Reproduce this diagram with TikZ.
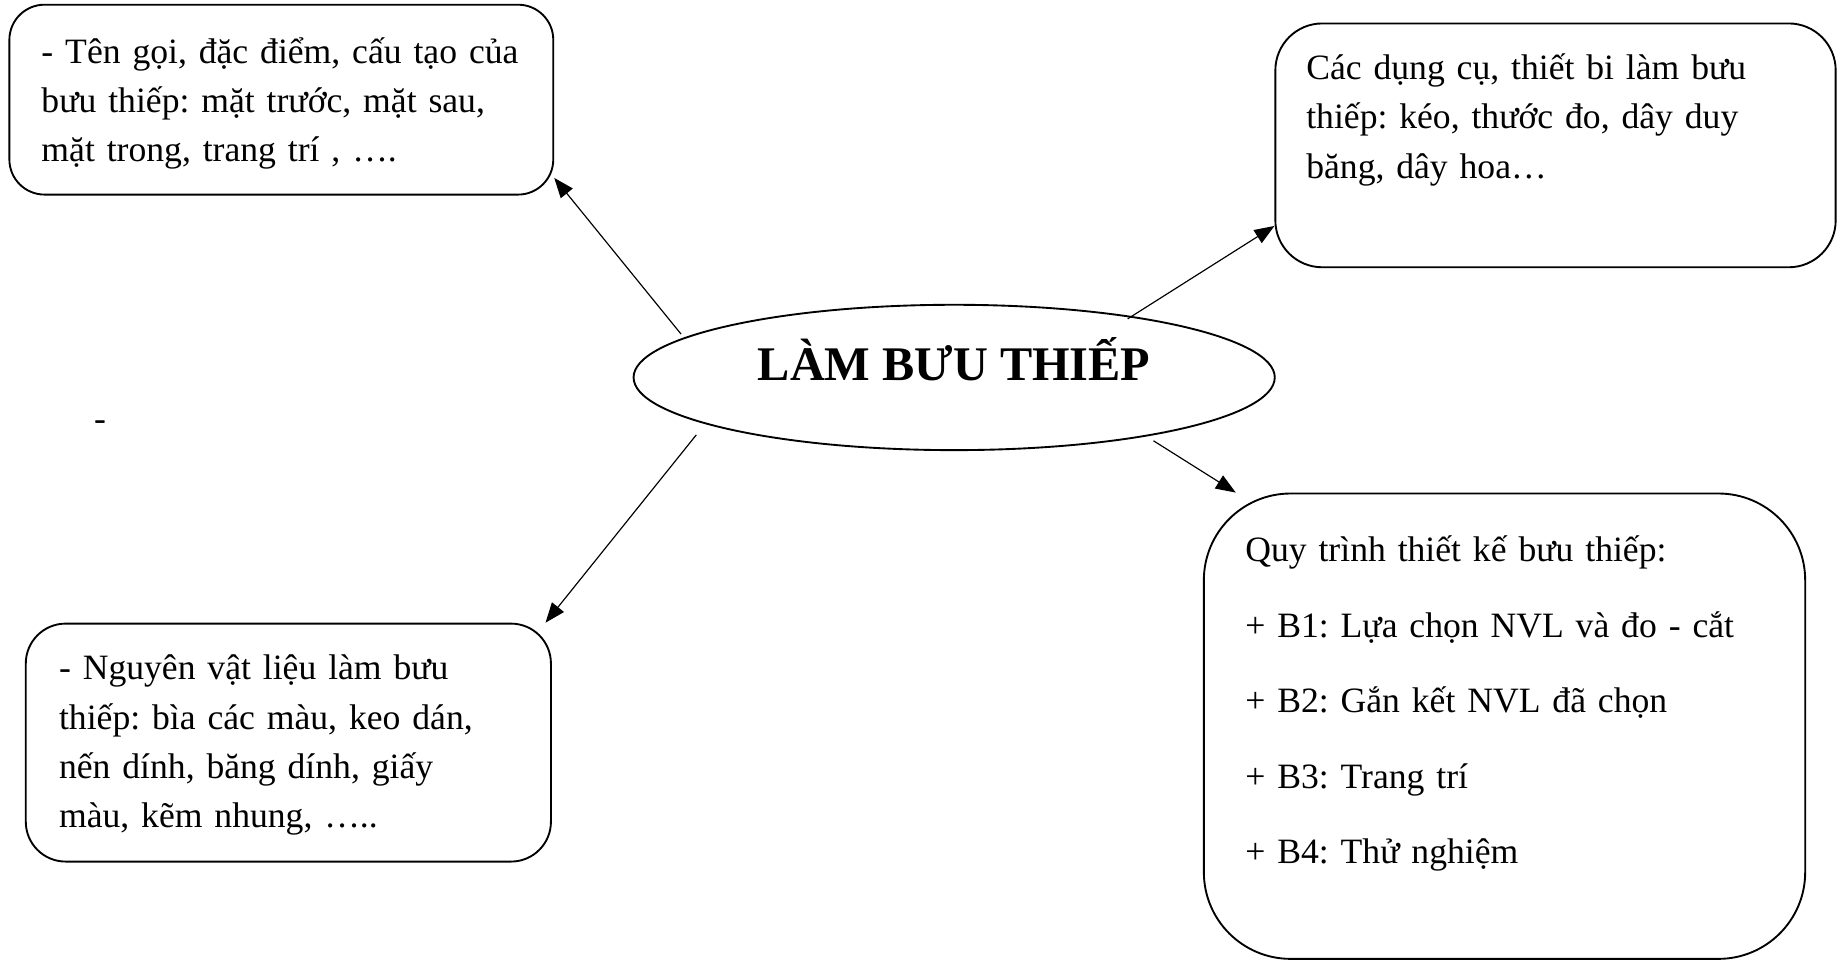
\documentclass[tikz,border=0pt]{standalone}
\usepackage{fontspec}
\setmainfont{Liberation Serif}
\usetikzlibrary{shapes.geometric, arrows.meta}
\frenchspacing

\begin{document}
\begin{tikzpicture}[x=0.5pt, y=-0.5pt,
    box/.style={draw, line width=0.8pt, inner sep=0pt},
    txt/.style={anchor=base west, inner sep=0pt, text width=260pt, align=left,
                font=\fontsize{15.2}{21}\selectfont},
    link/.style={line width=0.5pt, -{Triangle[length=8.5pt, width=6.5pt]}}]
    \useasboundingbox (0,0) rectangle (1568,820);
    % Draw the centre ellipse
    \node[draw, ellipse, line width=0.8pt, minimum width=273.5pt, minimum height=62pt,
          inner sep=0pt, text height=7pt, text depth=4pt,
          font=\fontsize{20.6}{24}\selectfont\bfseries] (title) at (814,322) {LÀM BƯU THIẾP};
    % Draw the boxes
    \node[box, rounded corners=15pt, minimum width=232pt, minimum height=81pt] (tl) at (240,85) {};
    \node[box, rounded corners=20pt, minimum width=239pt, minimum height=104pt] (tr) at (1327,124) {};
    \node[box, rounded corners=17pt, minimum width=224pt, minimum height=101.5pt] (bl) at (246,633.5) {};
    \node[box, rounded corners=37pt, minimum width=256.5pt, minimum height=198.5pt] (br) at (1283.5,619.5) {};
    % Texts in the boxes
    \node[txt] (tltext) at (35,54) {- Tên gọi, đặc điểm, cấu tạo của\\bưu thiếp: mặt trước, mặt sau,\\mặt trong, trang trí , ….};
    \node[txt] (trtext) at (1114,68) {Các dụng cụ, thiết bi làm bưu\\thiếp: kéo, thước đo, dây duy\\băng, dây hoa…};
    \node[txt] (bltext) at (50,580) {- Nguyên vật liệu làm bưu\\thiếp: bìa các màu, keo dán,\\nến dính, băng dính, giấy\\màu, kẽm nhung, …..};
    \node[txt, font=\fontsize{15.2}{32.25}\selectfont] (brtext) at (1062,479) {Quy trình thiết kế bưu thiếp:\\+ B1: Lựa chọn NVL và đo - cắt\\+ B2: Gắn kết NVL đã chọn\\+ B3: Trang trí\\+ B4: Thử nghiệm};
    \node[txt] (stray) at (80,367) {-};
    % Draw the arrows
    \coordinate (s1) at (581,285);
    \coordinate (s2) at (962,272);
    \coordinate (s3) at (594,371);
    \coordinate (s4) at (984,376);
    \draw[link] (s1) -- (tl.-16);
    \draw[link] (s2) -- (tr.196);
    \draw[link] (s3) -- (bl.25.5);
    \draw[link] (s4) -- (br.139);
\end{tikzpicture}
\end{document}
